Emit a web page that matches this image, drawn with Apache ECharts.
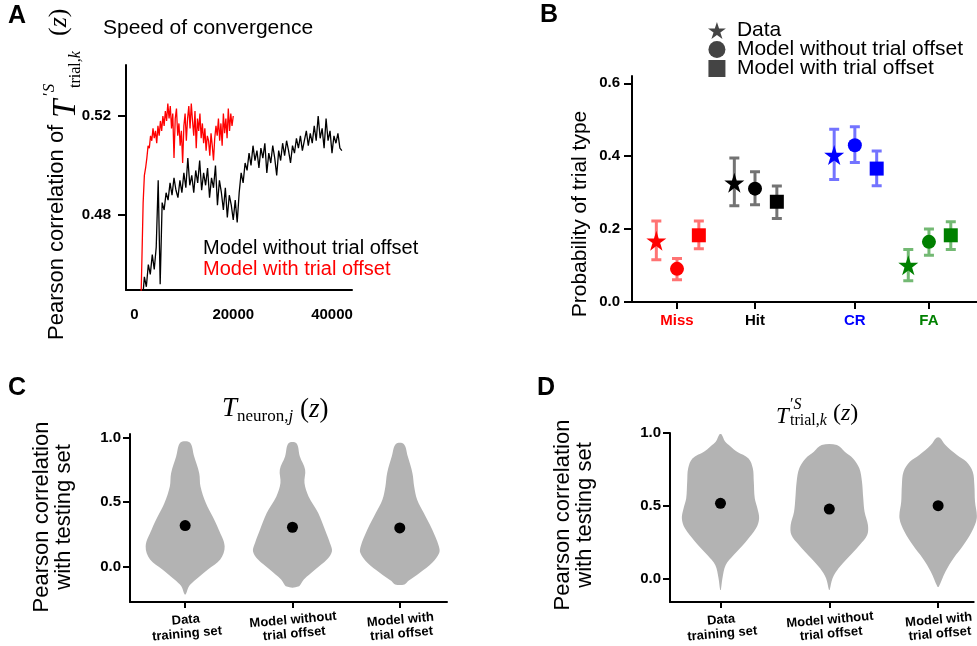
<!DOCTYPE html>
<html>
<head>
<meta charset="utf-8">
<script src="https://cdn.jsdelivr.net/npm/echarts@6/dist/echarts.min.js"></script>
<style>
html, body { margin: 0; padding: 0; background: #fff; }
#chart { width: 977px; height: 646px; }
</style>
</head>
<body>
<div id="chart"></div>
<script>
// ---- panel A: speed of convergence ----
const stepWithStart = 1250, stepWith = 250;
const corrWith = [
  0.440, 0.462, 0.485, 0.496, 0.499, 0.503, 0.508, 0.507, 0.512, 0.510,
  0.515, 0.511, 0.514, 0.509, 0.516, 0.512, 0.518, 0.514, 0.520, 0.516,
  0.522, 0.518, 0.525, 0.519, 0.524, 0.515, 0.521, 0.503, 0.519, 0.523,
  0.512, 0.517, 0.508, 0.514, 0.501, 0.516, 0.521, 0.510, 0.519, 0.524,
  0.515, 0.525, 0.518, 0.512, 0.522, 0.507, 0.519, 0.514, 0.521, 0.511,
  0.517, 0.509, 0.515, 0.506, 0.512, 0.510, 0.504, 0.513, 0.508, 0.502,
  0.511, 0.516, 0.512, 0.519, 0.510, 0.517, 0.508, 0.521, 0.513, 0.519,
  0.511, 0.523, 0.514, 0.521, 0.516, 0.520
];
const stepWithoutStart = 1600, stepWithout = 400;
const corrWithout = [
  0.445, 0.455, 0.451, 0.460, 0.456, 0.464, 0.458, 0.467, 0.494, 0.452,
  0.485, 0.482, 0.489, 0.486, 0.493, 0.488, 0.495, 0.490, 0.487, 0.494,
  0.489, 0.497, 0.491, 0.503, 0.492, 0.496, 0.489, 0.498, 0.493, 0.502,
  0.490, 0.497, 0.492, 0.499, 0.487, 0.495, 0.491, 0.500, 0.484, 0.494,
  0.489, 0.482, 0.491, 0.479, 0.488, 0.484, 0.478, 0.486, 0.477, 0.489,
  0.497, 0.493, 0.501, 0.498, 0.505, 0.500, 0.508, 0.502, 0.506, 0.499,
  0.507, 0.503, 0.509, 0.497, 0.505, 0.501, 0.508, 0.503, 0.496, 0.506,
  0.502, 0.509, 0.504, 0.510, 0.506, 0.501, 0.508, 0.505, 0.511, 0.507,
  0.512, 0.506, 0.510, 0.514, 0.508, 0.513, 0.509, 0.516, 0.510, 0.520,
  0.511, 0.515, 0.507, 0.519, 0.510, 0.514, 0.505, 0.512, 0.509, 0.513,
  0.507, 0.506
];
const stepTicks = [0, 20000, 40000];
const corrTicksA = [0.48, 0.52];

// ---- panel B: trial type probabilities ----
const trialTypes = ['Miss', 'Hit', 'CR', 'FA'];
const typeX = [0, 1, 2.28, 3.23];
const probData = [0.168, 0.327, 0.403, 0.101];
const probDataLow = [0.116, 0.264, 0.336, 0.058];
const probDataHigh = [0.222, 0.395, 0.474, 0.144];
const probNoOffset = [0.091, 0.311, 0.430, 0.165];
const probNoOffsetLow = [0.061, 0.267, 0.383, 0.128];
const probNoOffsetHigh = [0.119, 0.357, 0.481, 0.200];
const probWithOffset = [0.183, 0.275, 0.366, 0.183];
const probWithOffsetLow = [0.146, 0.229, 0.319, 0.144];
const probWithOffsetHigh = [0.222, 0.318, 0.414, 0.220];
const probTicks = [0, 0.2, 0.4, 0.6];

// ---- panels C, D: violins ----
const groups = ['Data\ntraining set', 'Model without\ntrial offset', 'Model with\ntrial offset'];
const corrTicks = [0, 0.5, 1];
const meanNeuron = [0.318, 0.305, 0.300];
const meanTrial = [0.518, 0.479, 0.502];
// [correlation, half width] from bottom to top
const violinNeuron = [
  [[-0.217, 0.006], [-0.153, 0.037], [-0.101, 0.100], [-0.023, 0.212], [0.054, 0.327], [0.158, 0.368],
   [0.287, 0.312], [0.390, 0.255], [0.494, 0.193], [0.623, 0.143], [0.726, 0.131], [0.855, 0.084], [0.964, 0.044]],
  [[-0.157, 0.053], [-0.101, 0.106], [-0.023, 0.212], [0.054, 0.321], [0.119, 0.368], [0.183, 0.349],
   [0.287, 0.302], [0.416, 0.240], [0.545, 0.150], [0.649, 0.112], [0.752, 0.118], [0.855, 0.069], [0.959, 0.037]],
  [[-0.140, 0.044], [-0.114, 0.078], [-0.049, 0.187], [0.028, 0.302], [0.106, 0.368], [0.158, 0.364],
   [0.287, 0.302], [0.416, 0.224], [0.519, 0.162], [0.623, 0.134], [0.726, 0.118], [0.855, 0.075], [0.953, 0.037]]
];
const violinTrial = [
  [[-0.075, 0.003], [0.005, 0.018], [0.096, 0.048], [0.164, 0.121], [0.256, 0.233], [0.347, 0.327], [0.416, 0.355],
   [0.484, 0.339], [0.553, 0.315], [0.667, 0.306], [0.758, 0.297], [0.826, 0.258], [0.872, 0.152], [0.910, 0.090],
   [0.941, 0.042], [0.991, 0.009]],
  [[-0.075, 0.003], [0.005, 0.030], [0.073, 0.085], [0.142, 0.167], [0.233, 0.279], [0.301, 0.348], [0.370, 0.355],
   [0.461, 0.324], [0.553, 0.312], [0.667, 0.300], [0.758, 0.276], [0.826, 0.218], [0.872, 0.142], [0.918, 0.070]],
  [[-0.053, 0.006], [0.050, 0.067], [0.142, 0.142], [0.233, 0.233], [0.324, 0.309], [0.416, 0.355], [0.530, 0.339],
   [0.644, 0.333], [0.735, 0.318], [0.804, 0.258], [0.849, 0.173], [0.918, 0.067], [0.968, 0.015]]
];

const sans = "'Liberation Sans', Arial, sans-serif";
const serif = "'Liberation Serif', 'Times New Roman', serif";
const typeColors = ['#ff0000', '#000000', '#0000ff', '#008000'];
const violinGray = '#b3b3b3';
const starPath = 'path://M12,0L14.7,8.28L23.41,8.29L16.37,13.42L19.05,21.71L12,16.6L4.95,21.71L7.63,13.42L0.59,8.29L9.3,8.28Z';
const dodge = [-0.265, 0, 0.28];

const chart = echarts.init(document.getElementById('chart'));

const labelFont = { color: '#000', fontFamily: sans, fontWeight: 'bold', fontSize: 15 };

function axisBase(extra) {
  return Object.assign({
    type: 'value',
    splitLine: { show: false },
    axisLine: { show: true, onZero: false, lineStyle: { color: '#000', width: 2 } }
  }, extra);
}
function ticks(values, len) {
  return { show: true, customValues: values, length: len, lineStyle: { color: '#000', width: 2 } };
}

function renderViolin(profiles) {
  return function (params, api) {
    const i = params.dataIndex;
    const prof = profiles[i];
    const pts = [];
    prof.forEach(p => pts.push(api.coord([i + p[1], p[0]])));
    for (let k = prof.length - 1; k >= 0; k--) pts.push(api.coord([i - prof[k][1], prof[k][0]]));
    return { type: 'polygon', shape: { points: pts, smooth: 0.35 }, style: { fill: violinGray } };
  };
}

function renderErrorBar(params, api) {
  const x = api.value(0);
  const lo = api.coord([x, api.value(1)]);
  const hi = api.coord([x, api.value(2)]);
  const c = echarts.color.modifyAlpha(typeColors[api.value(3)], 0.55);
  const cap = 5;
  const d = 'M' + (hi[0] - cap) + ',' + hi[1] + 'L' + (hi[0] + cap) + ',' + hi[1] +
    'M' + hi[0] + ',' + hi[1] + 'L' + lo[0] + ',' + lo[1] +
    'M' + (lo[0] - cap) + ',' + lo[1] + 'L' + (lo[0] + cap) + ',' + lo[1];
  return { type: 'path', shape: { pathData: d }, style: { stroke: c, lineWidth: 3, fill: null } };
}

const errorData = [];
[[probDataLow, probDataHigh], [probNoOffsetLow, probNoOffsetHigh], [probWithOffsetLow, probWithOffsetHigh]]
  .forEach((pair, m) => {
    trialTypes.forEach((t, i) => errorData.push([typeX[i] + dodge[m], pair[0][i], pair[1][i], i]));
  });

function markerData(vals, m) {
  return vals.map((v, i) => [typeX[i] + dodge[m], v]);
}

const groupLabel = Object.assign({}, labelFont, {
  customValues: [0, 1, 2],
  formatter: v => groups[Math.round(v)],
  fontSize: 13, lineHeight: 14, rotate: 5, margin: 11,
  align: 'center', verticalAlign: 'top'
});

function text(x, y, str, font, extra) {
  return {
    type: 'text', x: x, y: y, rotation: (extra && extra.rotation) || 0,
    style: Object.assign({ text: str, font: font, fill: '#000', align: 'left', verticalAlign: 'middle' },
      extra && extra.style)
  };
}
function mathText(x, y, str, size) {
  const r = {
    u: { fontFamily: serif, fontSize: size, fontStyle: 'normal' },
    i: { fontFamily: serif, fontSize: size, fontStyle: 'italic' }
  };
  return {
    type: 'text', x: x, y: y,
    style: { text: str, fontSize: size, fontFamily: serif, rich: r, fill: '#000', align: 'left', verticalAlign: 'middle' }
  };
}

const option = {
  animation: false,
  backgroundColor: '#fff',
  grid: [
    { left: 126, top: 65, width: 226, height: 225 },
    { left: 632, top: 76, width: 345, height: 226 },
    { left: 130, top: 434, width: 317, height: 168 },
    { left: 670, top: 433, width: 307, height: 169 }
  ],
  xAxis: [
    axisBase({ gridIndex: 0, min: -1721, max: 44050, axisTick: { show: false },
      axisLabel: Object.assign({}, labelFont, { customValues: stepTicks, formatter: v => String(v), margin: 17 }) }),
    axisBase({ gridIndex: 1, min: -0.577, max: 3.846, axisTick: ticks(typeX, 7),
      axisLabel: Object.assign({}, labelFont, {
        customValues: typeX, margin: 11,
        formatter: v => { const i = typeX.findIndex(t => Math.abs(t - v) < 1e-9); return '{t' + i + '|' + trialTypes[i] + '}'; },
        rich: {
          t0: Object.assign({}, labelFont, { color: typeColors[0] }),
          t1: Object.assign({}, labelFont, { color: typeColors[1] }),
          t2: Object.assign({}, labelFont, { color: typeColors[2] }),
          t3: Object.assign({}, labelFont, { color: typeColors[3] })
        }
      }) }),
    axisBase({ gridIndex: 2, min: -0.514, max: 2.44, axisTick: ticks([0, 1, 2], 6), axisLabel: groupLabel }),
    axisBase({ gridIndex: 3, min: -0.464, max: 2.327, axisTick: ticks([0, 1, 2], 6), axisLabel: groupLabel })
  ],
  yAxis: [
    axisBase({ gridIndex: 0, min: 0.4497, max: 0.5406, axisTick: ticks(corrTicksA, 8),
      axisLabel: Object.assign({}, labelFont, { customValues: corrTicksA, formatter: v => v.toFixed(2), margin: 15 }) }),
    axisBase({ gridIndex: 1, min: 0, max: 0.62, axisTick: ticks(probTicks, 8),
      axisLabel: Object.assign({}, labelFont, { customValues: probTicks, formatter: v => v.toFixed(1), margin: 12 }) }),
    axisBase({ gridIndex: 2, min: -0.277, max: 1.031, axisTick: ticks(corrTicks, 7),
      axisLabel: Object.assign({}, labelFont, { customValues: corrTicks, formatter: v => v.toFixed(1), margin: 9 }) }),
    axisBase({ gridIndex: 3, min: -0.1575, max: 1.0, axisTick: ticks(corrTicks, 7),
      axisLabel: Object.assign({}, labelFont, { customValues: corrTicks, formatter: v => v.toFixed(1), margin: 9 }) })
  ],
  legend: {
    orient: 'vertical', left: 703, top: 15, itemWidth: 30, itemHeight: 17, itemGap: -2,
    selectedMode: false,
    textStyle: { fontSize: 21, fontFamily: sans, color: '#000' },
    data: [
      { name: 'Data', icon: starPath, itemStyle: { color: '#444' } },
      { name: 'Model without trial offset', icon: 'circle', itemStyle: { color: '#444' } },
      { name: 'Model with trial offset', icon: 'path://M0,0L10,0L10,10L0,10Z', itemStyle: { color: '#444' } }
    ]
  },
  series: [
    {
      name: 'convergence without offset', type: 'line', xAxisIndex: 0, yAxisIndex: 0,
      data: corrWithout.map((v, i) => [stepWithoutStart + i * stepWithout, v]),
      showSymbol: false, lineStyle: { color: '#000', width: 1.3 }, clip: true, z: 2
    },
    {
      name: 'convergence with offset', type: 'line', xAxisIndex: 0, yAxisIndex: 0,
      data: corrWith.map((v, i) => [stepWithStart + i * stepWith, v]),
      showSymbol: false, lineStyle: { color: '#ff0000', width: 1.3 }, clip: true, z: 3
    },
    {
      type: 'custom', xAxisIndex: 1, yAxisIndex: 1, data: errorData,
      renderItem: renderErrorBar, z: 2
    },
    {
      name: 'Data', type: 'scatter', xAxisIndex: 1, yAxisIndex: 1, symbol: starPath, symbolSize: 20,
      data: markerData(probData, 0), itemStyle: { color: p => typeColors[p.dataIndex], opacity: 1 }, z: 3
    },
    {
      name: 'Model without trial offset', type: 'scatter', xAxisIndex: 1, yAxisIndex: 1, symbol: 'circle', symbolSize: 14,
      data: markerData(probNoOffset, 1), itemStyle: { color: p => typeColors[p.dataIndex], opacity: 1 }, z: 3
    },
    {
      name: 'Model with trial offset', type: 'scatter', xAxisIndex: 1, yAxisIndex: 1, symbol: 'rect', symbolSize: 14,
      data: markerData(probWithOffset, 2), itemStyle: { color: p => typeColors[p.dataIndex], opacity: 1 }, z: 3
    },
    {
      type: 'custom', xAxisIndex: 2, yAxisIndex: 2, data: meanNeuron.map((m, i) => [i, m]),
      renderItem: renderViolin(violinNeuron), z: 2
    },
    {
      type: 'scatter', xAxisIndex: 2, yAxisIndex: 2, data: meanNeuron.map((m, i) => [i, m]),
      symbolSize: 11, itemStyle: { color: '#000', opacity: 1 }, z: 3
    },
    {
      type: 'custom', xAxisIndex: 3, yAxisIndex: 3, data: meanTrial.map((m, i) => [i, m]),
      renderItem: renderViolin(violinTrial), z: 2
    },
    {
      type: 'scatter', xAxisIndex: 3, yAxisIndex: 3, data: meanTrial.map((m, i) => [i, m]),
      symbolSize: 11, itemStyle: { color: '#000', opacity: 1 }, z: 3
    }
  ],
  graphic: [
    text(8, 16, 'A', 'bold 25px ' + sans),
    text(540, 15, 'B', 'bold 25px ' + sans),
    text(8, 388, 'C', 'bold 25px ' + sans),
    text(537, 388, 'D', 'bold 25px ' + sans),
    text(103, 28, 'Speed of convergence', '21px ' + sans),
    text(203, 248, 'Model without trial offset', '20px ' + sans),
    text(203, 269.5, 'Model with trial offset', '20px ' + sans, { style: { fill: '#ff0000' } }),
    // A y label (rotated)
    {
      type: 'group', x: 65, y: 340, rotation: Math.PI / 2,
      children: [
        text(0, -8, 'Pearson correlation of', '22px ' + sans),
        mathText(222, 1, '{i|T}', 33),
        mathText(244, -15, '{u|′}{i|S}', 17),
        mathText(252, 11, '{u|trial,}{i|k}', 16),
        mathText(304, -6, '{u|(}{i|z}{u|)}', 26)
      ]
    },
    text(580, 214, 'Probability of trial type', '21px ' + sans, { rotation: Math.PI / 2, style: { align: 'center' } }),
    text(53, 517, 'Pearson correlation\nwith testing set', '22px ' + sans,
      { rotation: Math.PI / 2, style: { align: 'center', lineHeight: 22 } }),
    text(574, 515, 'Pearson correlation\nwith testing set', '22px ' + sans,
      { rotation: Math.PI / 2, style: { align: 'center', lineHeight: 22 } }),
    // C title
    mathText(222, 409, '{i|T}', 27),
    mathText(237, 417, '{u|neuron,}{i|j}', 17),
    mathText(300, 410, '{u|(}{i|z}{u|)}', 27),
    // D title
    mathText(776, 417, '{i|T}', 23),
    mathText(790, 405, '{u|′}{i|S}', 16),
    mathText(790, 420.5, '{u|trial,}{i|k}', 16),
    mathText(833, 414, '{u|(}{i|z}{u|)}', 24)
  ]
};

chart.setOption(option);
</script>
</body>
</html>
